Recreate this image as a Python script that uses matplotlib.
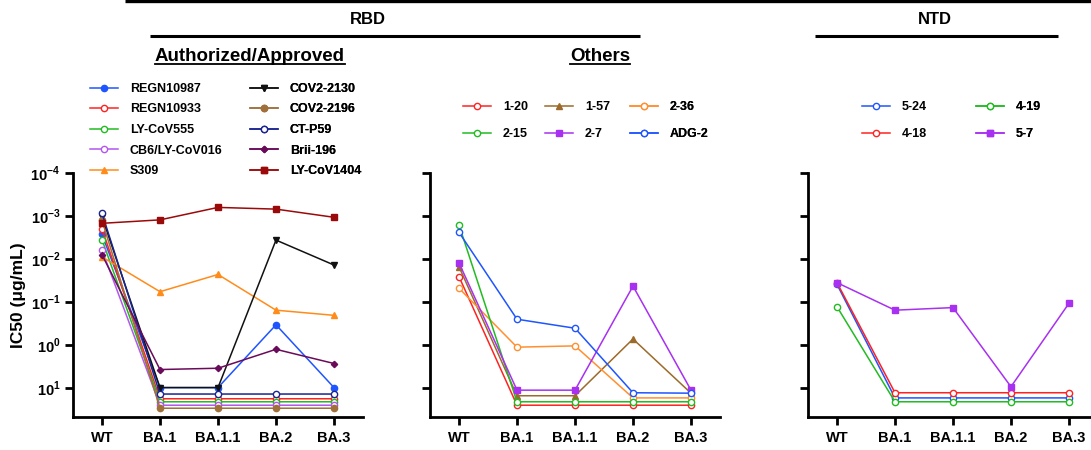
import numpy as np
import matplotlib
matplotlib.use("Agg")
import matplotlib.pyplot as plt
from matplotlib.lines import Line2D

plt.rcParams["font.family"] = ["Liberation Sans", "DejaVu Sans"]
plt.rcParams["font.weight"] = "bold"
plt.rcParams["mathtext.fontset"] = "custom"
plt.rcParams["mathtext.rm"] = "Liberation Sans:bold"
plt.rcParams["mathtext.bf"] = "Liberation Sans:bold"

variants = ["WT", "BA.1", "BA.1.1", "BA.2", "BA.3"]
y_ticks = [1e-4, 1e-3, 1e-2, 1e-1, 1e0, 1e1]
y_tick_labels = [r"$10^{-4}$", r"$10^{-3}$", r"$10^{-2}$", r"$10^{-1}$", r"$10^{0}$", r"$10^{1}$"]

# log10(IC50) values
auth_names = ["REGN10987", "REGN10933", "LY-CoV555", "CB6/LY-CoV016", "S309",
              "COV2-2130", "COV2-2196", "CT-P59", "Brii-196", "LY-CoV1404"]
auth_log = [
    [-2.57, 0.99, 0.99, -0.47, 0.99],
    [-2.70, 1.25, 1.25, 1.25, 1.25],
    [-2.45, 1.32, 1.32, 1.32, 1.32],
    [-2.21, 1.40, 1.40, 1.40, 1.40],
    [-2.05, -1.24, -1.64, -0.81, -0.69],
    [-2.98, 0.99, 0.99, -2.44, -1.86],
    [-2.90, 1.47, 1.47, 1.47, 1.47],
    [-3.06, 1.14, 1.14, 1.14, 1.14],
    [-2.10, 0.57, 0.54, 0.10, 0.43],
    [-2.83, -2.91, -3.20, -3.16, -2.97],
]
auth_colors = ["#1f55ff", "#ff2222", "#22bb22", "#b455f0", "#ff8c1a",
               "#111111", "#a0703a", "#1a2590", "#6a0a5a", "#9b0a0a"]
auth_markers = ["o", "o", "o", "o", "^", "v", "o", "o", "D", "s"]
auth_open = [False, True, True, True, False, False, False, True, False, False]

oth_names = ["1-20", "1-57", "2-36", "2-15", "2-7", "ADG-2"]
oth_log = [
    [-1.59, 1.40, 1.40, 1.40, 1.40],
    [-1.82, 1.18, 1.18, -0.14, 1.12],
    [-1.32, 0.05, 0.02, 1.23, 1.23],
    [-2.79, 1.32, 1.32, 1.32, 1.32],
    [-1.91, 1.05, 1.05, -1.37, 1.05],
    [-2.62, -0.60, -0.39, 1.11, 1.12],
]
oth_colors = ["#ff2222", "#9c6a2a", "#ff9030", "#22bb22", "#a830f0", "#1f55ff"]
oth_markers = ["o", "^", "o", "o", "s", "o"]
oth_open = [True, False, True, True, False, True]

ntd_names = ["5-24", "4-18", "4-19", "5-7"]
ntd_log = [
    [-1.41, 1.23, 1.23, 1.23, 1.23],
    [-1.45, 1.11, 1.11, 1.11, 1.11],
    [-0.89, 1.32, 1.32, 1.32, 1.32],
    [-1.45, -0.81, -0.87, 0.97, -0.97],
]
ntd_colors = ["#1f55ff", "#ff2222", "#22bb22", "#a830f0"]
ntd_markers = ["o", "o", "o", "s"]
ntd_open = [True, True, True, False]

W, H = 1091, 450
fig = plt.figure(figsize=(W / 100, H / 100), dpi=100)


def px_axes(x0, x1, ytop, ybot):
    return fig.add_axes([x0 / W, 1 - ybot / H, (x1 - x0) / W, (ybot - ytop) / H])


def draw_panel(ax, names, logs, colors, markers, opens, xmax, show_labels):
    handles = []
    x = np.arange(len(variants))
    for n, lv, c, m, o in zip(names, logs, colors, markers, opens):
        ms = 4.5 if m != "D" else 3.2
        h, = ax.plot(x, 10 ** np.array(lv), color=c, marker=m, ms=ms, lw=1.1,
                     mfc="white" if o else c, mec=c, mew=1.0, label=n, clip_on=False)
        handles.append(h)
    ax.set_yscale("log")
    ax.set_ylim(10 ** 1.674, 1e-4)
    ax.set_xlim(-0.5, xmax)
    ax.set_xticks(x)
    ax.set_xticklabels(variants, fontsize=10.5, fontweight="bold")
    ax.set_yticks(y_ticks)
    ax.minorticks_off()
    if show_labels:
        ax.set_yticklabels(y_tick_labels, fontsize=10.5)
    else:
        ax.set_yticklabels([])
    for s in ["top", "right"]:
        ax.spines[s].set_visible(False)
    for s in ["left", "bottom"]:
        ax.spines[s].set_linewidth(2)
    ax.tick_params(direction="out", length=6, width=2, pad=3)
    ax.tick_params(axis="x", pad=4)
    return handles


ax1 = px_axes(73, 363, 173, 417)
ax2 = px_axes(430, 720, 173, 417)
ax3 = px_axes(808, 1091, 173, 417)

h1 = draw_panel(ax1, auth_names, auth_log, auth_colors, auth_markers, auth_open, 4.5, True)
h2 = draw_panel(ax2, oth_names, oth_log, oth_colors, oth_markers, oth_open, 4.5, False)
h3 = draw_panel(ax3, ntd_names, ntd_log, ntd_colors, ntd_markers, ntd_open, 4.38, False)

ax1.set_ylabel("IC50 (\u03bcg/mL)", fontsize=12.5, fontweight="bold", labelpad=3)


def column_legend(ax, handles, x, y, spacing):
    leg = ax.legend(handles=handles, loc="upper left", bbox_to_anchor=(x / W, 1 - y / H),
                    bbox_transform=fig.transFigure, frameon=False, borderpad=0,
                    borderaxespad=0, handlelength=2.2, handletextpad=1.0,
                    labelspacing=spacing, prop={"size": 9, "weight": "bold"})
    ax.add_artist(leg)


column_legend(ax1, h1[:5], 90, 83, 0.68)
column_legend(ax1, h1[5:], 250, 83, 0.68)
column_legend(ax2, [h2[0], h2[3]], 463, 101, 1.2)
column_legend(ax2, [h2[1], h2[4]], 545, 101, 1.2)
column_legend(ax2, [h2[2], h2[5]], 630, 101, 1.2)
column_legend(ax3, [h3[0], h3[1]], 862, 101, 1.2)
column_legend(ax3, [h3[2], h3[3]], 976, 101, 1.2)


def fig_line(x0, x1, y, lw):
    fig.add_artist(Line2D([x0 / W, x1 / W], [1 - y / H, 1 - y / H], color="black",
                          lw=lw, transform=fig.transFigure, solid_capstyle="butt"))


fig_line(125, 1091, 1, 2.4)
fig_line(150, 640, 36, 2.2)
fig_line(815, 1058, 36, 2.2)
fig.text(368 / W, 1 - 19 / H, "RBD", ha="center", va="center", fontsize=12, fontweight="bold")
fig.text(935 / W, 1 - 19 / H, "NTD", ha="center", va="center", fontsize=12, fontweight="bold")

subs = []
subs.append(fig.text(250 / W, 1 - 61 / H, "Authorized/Approved", ha="center", va="baseline",
                     fontsize=13.5, fontweight="bold"))
subs.append(fig.text(600 / W, 1 - 61 / H, "Others", ha="center", va="baseline",
                     fontsize=13.5, fontweight="bold"))
fig.canvas.draw()
for t in subs:
    bb = t.get_window_extent()
    fig.add_artist(Line2D([bb.x0 / W, bb.x1 / W], [1 - 63.5 / H, 1 - 63.5 / H],
                          color="black", lw=1.3, transform=fig.transFigure))

fig.savefig("out.png", dpi=100)
